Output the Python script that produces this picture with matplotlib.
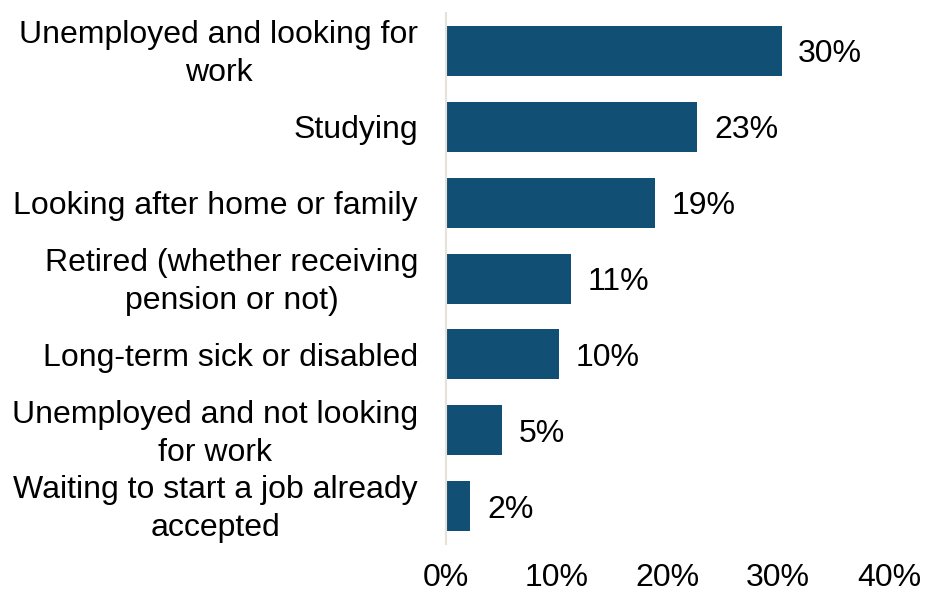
import matplotlib.pyplot as plt
import matplotlib.transforms as mtransforms
import numpy as np

# Economic activity of those not in employment (share of respondents)
categories = [
    "Unemployed and looking for\nwork",
    "Studying",
    "Looking after home or family",
    "Retired (whether receiving\npension or not)",
    "Long-term sick or disabled",
    "Unemployed and not looking\nfor work",
    "Waiting to start a job already\naccepted",
]
shares = [30.3, 22.7, 18.9, 11.3, 10.2, 5.1, 2.2]
x_ticks = [0, 10, 20, 30, 40]

BAR_COLOR = "#124f74"
AXIS_COLOR = "#e6e2da"

plt.rcParams["font.family"] = ["Liberation Sans", "DejaVu Sans"]

fig = plt.figure(figsize=(9.27, 5.93), dpi=100)
ax = fig.add_axes([0.481, 0.0826, 0.478, 0.8954])

y = np.arange(len(categories))
ax.barh(y, shares, height=0.66, color=BAR_COLOR, edgecolor="none", zorder=2)

for yi, v in zip(y, shares):
    ax.annotate(
        f"{v:.0f}%",
        xy=(v, yi),
        xytext=(12, -2.5),
        textcoords="offset points",
        ha="left",
        va="center",
        fontsize=23,
        color="black",
    )

ax.set_ylim(len(categories) - 0.5, -0.5)
ax.set_xlim(0, 40)
ax.set_yticks(y)
ax.set_yticklabels(categories, fontsize=23, multialignment="center", linespacing=1.35)
ax.set_xticks(x_ticks)
ax.set_xticklabels([f"{t}%" for t in x_ticks], fontsize=23)
ax.tick_params(axis="both", length=0)
ax.tick_params(axis="x", pad=14)
ax.tick_params(axis="y", pad=20)

# nudge two-line category labels up so both lines sit around the bar centre
lift = mtransforms.ScaledTranslation(0, 3 / 72, fig.dpi_scale_trans)
for label in ax.get_yticklabels():
    if "\n" in label.get_text():
        label.set_transform(label.get_transform() + lift)

for s in ["right", "top", "bottom"]:
    ax.spines[s].set_visible(False)
ax.spines["left"].set_color(AXIS_COLOR)
ax.spines["left"].set_linewidth(1.5)

fig.savefig("out.png", dpi=100, facecolor="white")
